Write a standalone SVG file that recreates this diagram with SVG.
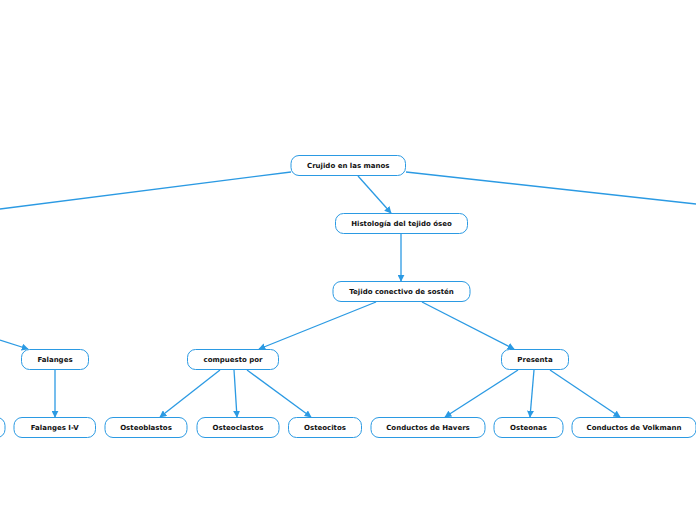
<svg xmlns="http://www.w3.org/2000/svg" width="696" height="520" viewBox="0 0 696 520">
<defs>
<marker id="ah" viewBox="0 0 10 10" refX="9" refY="5" markerWidth="7" markerHeight="7" markerUnits="userSpaceOnUse" orient="auto">
<path d="M0,0 L10,5 L0,10 z" fill="#2b9ae3"/>
</marker>
<style>
.n rect{fill:#fff;stroke:#2b9ae3;stroke-width:1}
.n text{font-family:"DejaVu Sans",Verdana,sans-serif;font-weight:bold;font-size:7px;fill:#111;text-anchor:middle;dominant-baseline:central}
.e line{stroke:#2b9ae3;stroke-width:1.3}
.e .a{marker-end:url(#ah)}
</style>
</defs>
<rect width="696" height="520" fill="#fff"/>
<g id="connectors" class="e">
<line x1="291" y1="172" x2="0" y2="209"/>
<line x1="406" y1="172" x2="696" y2="204"/>
<line class="a" x1="358" y1="176" x2="391" y2="213"/>
<line class="a" x1="401" y1="234" x2="401" y2="281"/>
<line class="a" x1="376" y1="302" x2="259" y2="349"/>
<line class="a" x1="422" y1="302" x2="514" y2="349"/>
<line class="a" x1="0" y1="340" x2="28" y2="349"/>
<line class="a" x1="55" y1="370" x2="55" y2="417"/>
<line class="a" x1="220" y1="370" x2="160" y2="417"/>
<line class="a" x1="234" y1="370" x2="237" y2="417"/>
<line class="a" x1="247" y1="370" x2="311" y2="417"/>
<line class="a" x1="518" y1="370" x2="445" y2="417"/>
<line class="a" x1="534" y1="370" x2="530" y2="417"/>
<line class="a" x1="550" y1="370" x2="620" y2="417"/>
</g>
<g id="n-root" class="n"><rect x="291" y="155.5" width="114.5" height="20" rx="8"/><text x="348.25" y="165.5">Crujido en las manos</text></g>
<g id="n-histologia" class="n"><rect x="335.5" y="213.5" width="132" height="20" rx="8"/><text x="401.5" y="223.5">Histología del tejido óseo</text></g>
<g id="n-tejido" class="n"><rect x="333" y="281.5" width="137" height="20" rx="8"/><text x="401.5" y="291.5">Tejido conectivo de sostén</text></g>
<g id="n-falanges" class="n"><rect x="21.5" y="349.5" width="67" height="20" rx="8"/><text x="55" y="359.5">Falanges</text></g>
<g id="n-compuesto" class="n"><rect x="187.5" y="349.5" width="91" height="20" rx="8"/><text x="233" y="359.5">compuesto por</text></g>
<g id="n-presenta" class="n"><rect x="501.5" y="349.5" width="67" height="20" rx="8"/><text x="535" y="359.5">Presenta</text></g>
<g id="n-left" class="n"><rect x="-60" y="417.5" width="65" height="20" rx="8"/></g>
<g id="n-falangesiv" class="n"><rect x="14" y="417.5" width="81.5" height="20" rx="8"/><text x="54.75" y="427.5">Falanges I-V</text></g>
<g id="n-osteoblastos" class="n"><rect x="105" y="417.5" width="82" height="20" rx="8"/><text x="146" y="427.5">Osteoblastos</text></g>
<g id="n-osteoclastos" class="n"><rect x="197" y="417.5" width="82" height="20" rx="8"/><text x="238" y="427.5">Osteoclastos</text></g>
<g id="n-osteocitos" class="n"><rect x="288.5" y="417.5" width="73" height="20" rx="8"/><text x="325" y="427.5">Osteocitos</text></g>
<g id="n-havers" class="n"><rect x="371" y="417.5" width="114" height="20" rx="8"/><text x="428" y="427.5">Conductos de Havers</text></g>
<g id="n-osteonas" class="n"><rect x="494" y="417.5" width="69" height="20" rx="8"/><text x="528.5" y="427.5">Osteonas</text></g>
<g id="n-volkmann" class="n"><rect x="572" y="417.5" width="124" height="20" rx="8"/><text x="634" y="427.5">Conductos de Volkmann</text></g>
</svg>
